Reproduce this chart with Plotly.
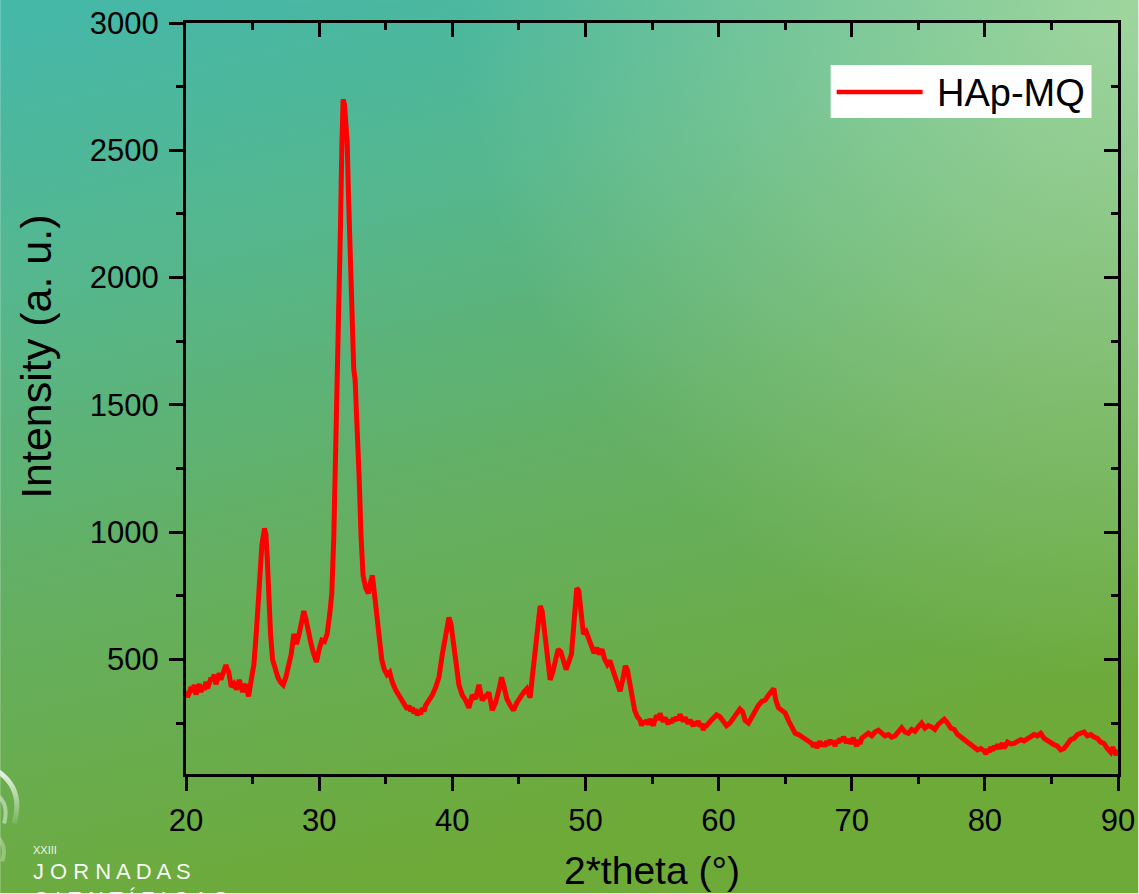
import base64
import plotly.graph_objects as go

# ---- XRD pattern (2theta in degrees, intensity in a.u.) ----
series_name = "HAp-MQ"
two_theta = [
    20.0, 20.12, 20.25, 20.38, 20.5, 20.62, 20.75, 20.88, 21.0, 21.12, 21.25, 21.38,
    21.5, 21.62, 21.75, 21.88, 22.0, 22.12, 22.25, 22.38, 22.5, 22.62, 22.75, 22.88,
    23.0, 23.1, 23.2, 23.4, 23.6, 23.8, 24.0, 24.12, 24.25, 24.38, 24.5, 24.6, 24.7,
    24.9, 25.1, 25.3, 25.5, 25.7, 25.9, 26.0, 26.1, 26.2, 26.35, 26.5, 26.7, 26.9,
    27.1, 27.3, 27.5, 27.7, 27.9, 28.1, 28.3, 28.5, 28.7, 28.85, 29.0, 29.2, 29.4,
    29.6, 29.8, 30.0, 30.2, 30.4, 30.6, 30.8, 30.95, 31.1, 31.25, 31.4, 31.5, 31.6,
    31.7, 31.8, 31.9, 32.0, 32.1, 32.2, 32.3, 32.4, 32.5, 32.6, 32.7, 32.85, 33.0,
    33.15, 33.3, 33.5, 33.7, 33.85, 34.0, 34.15, 34.3, 34.5, 34.7, 34.9, 35.1, 35.3,
    35.5, 35.75, 36.0, 36.25, 36.5, 36.62, 36.75, 36.88, 37.0, 37.12, 37.25, 37.38,
    37.5, 37.62, 37.75, 37.88, 38.0, 38.25, 38.5, 38.75, 39.0, 39.25, 39.5, 39.75,
    39.9, 40.1, 40.3, 40.5, 40.75, 41.0, 41.25, 41.5, 41.75, 42.0, 42.25, 42.5,
    42.75, 43.0, 43.25, 43.5, 43.7, 43.9, 44.1, 44.35, 44.6, 44.85, 45.1, 45.35,
    45.6, 45.85, 46.05, 46.25, 46.45, 46.6, 46.75, 46.95, 47.15, 47.35, 47.55, 47.75,
    47.95, 48.15, 48.35, 48.55, 48.75, 48.95, 49.15, 49.35, 49.5, 49.7, 49.85, 50.05,
    50.25, 50.45, 50.65, 50.85, 51.05, 51.25, 51.45, 51.65, 51.85, 52.05, 52.25,
    52.45, 52.6, 52.8, 53.0, 53.15, 53.3, 53.5, 53.7, 53.9, 54.1, 54.22, 54.35, 54.48,
    54.6, 54.72, 54.85, 54.98, 55.1, 55.22, 55.35, 55.48, 55.6, 55.72, 55.85, 55.98,
    56.1, 56.22, 56.35, 56.48, 56.6, 56.72, 56.85, 56.98, 57.1, 57.22, 57.35, 57.48,
    57.6, 57.72, 57.85, 57.98, 58.1, 58.22, 58.35, 58.48, 58.6, 58.72, 58.85, 58.98,
    59.1, 59.35, 59.6, 59.85, 60.1, 60.35, 60.6, 60.85,
    61.1, 61.35, 61.6, 61.8, 62.0, 62.25, 62.5, 62.75, 63.0, 63.25, 63.5, 63.75,
    64.0, 64.15, 64.3, 64.5, 64.75, 65.0, 65.25, 65.5, 65.75, 66.0, 66.25, 66.5,
    66.75, 67.0, 67.12, 67.25, 67.38, 67.5, 67.62, 67.75, 67.88, 68.0, 68.12, 68.25,
    68.38, 68.5, 68.62, 68.75, 68.88, 69.0, 69.12, 69.25, 69.38, 69.5, 69.62,
    69.75, 69.88, 70.0, 70.12, 70.25, 70.38, 70.5, 70.62, 70.75, 71.0, 71.25, 71.5,
    71.75, 72.0, 72.25, 72.5,
    72.75, 73.0, 73.25, 73.5, 73.75, 74.0, 74.25, 74.5, 74.75, 75.0, 75.25, 75.5,
    75.75, 76.0, 76.25, 76.5, 76.75, 76.95, 77.2, 77.45, 77.7, 77.95, 78.2, 78.45,
    78.7, 78.95, 79.2, 79.45, 79.7, 79.95, 80.08, 80.2, 80.32, 80.45, 80.58, 80.7,
    80.82, 80.95, 81.08, 81.2, 81.32, 81.45, 81.58,
    81.7, 81.95, 82.2, 82.45, 82.7, 82.95, 83.2, 83.45, 83.7, 83.95, 84.2, 84.45,
    84.7, 84.95, 85.2, 85.45, 85.7, 85.95, 86.2, 86.45, 86.7, 86.95, 87.2, 87.45,
    87.7, 87.95, 88.2, 88.45, 88.7, 88.95, 89.2, 89.45, 89.6, 89.7, 89.85, 90.0,
]
intensity = [
    375, 352, 368, 392, 372, 400, 362, 385, 404, 372, 398, 380,
    412, 386, 402, 428, 418, 440, 402, 425, 446, 420, 436, 452,
    478, 462, 452, 392, 405, 382, 420, 398, 372, 395, 402, 375, 355,
    420, 480, 620, 800, 950, 1015, 990, 900, 760, 600, 500, 460, 430,
    410, 400, 430, 470, 520, 600, 560, 600, 660, 690, 660, 600, 560,
    520, 490, 540, 575, 570, 600, 680, 760, 980, 1300, 1650, 1900, 2200,
    2500, 2700, 2680, 2600, 2540, 2330, 2150, 1900, 1700, 1640, 1600, 1450, 1220,
    980, 830, 780, 760, 800, 830, 760, 690, 580, 500, 460, 440, 450,
    410, 380, 360, 340, 320, 305, 318, 296, 312, 288, 305, 280,
    300, 285, 308, 296, 320, 340, 360, 390, 430, 520, 600, 665,
    640, 560, 460, 400, 360, 340, 310, 360, 345, 400, 340, 355,
    370, 300, 330, 380, 430, 390, 345, 320, 300, 330, 355, 370,
    385, 350, 450, 560, 660, 710, 690, 600, 520, 420, 450, 500,
    540, 530, 490, 460, 490, 520, 650, 780, 770, 660, 600, 610,
    580, 540, 525, 545, 520, 540, 500, 480, 495, 460, 430,
    390, 375, 420, 475, 460, 410, 350, 300, 275, 262, 240, 258, 248,
    262, 244, 266, 252, 240, 262, 280, 262, 288, 270, 255, 272,
    262, 246, 262, 250, 270, 258, 274, 262, 284, 266, 256, 272,
    258, 248, 262, 244, 238, 256, 242, 258, 236, 248, 222, 240,
    240, 255, 270, 282, 275, 255, 240, 250,
    270, 290, 305, 295, 260, 250, 275, 300, 320, 335, 340, 360,
    375, 385, 340, 310, 300, 290, 260, 230, 210, 205, 195, 185,
    175, 170, 158, 174, 152, 168, 178, 160, 172, 158, 180, 164,
    184, 168, 178, 160, 182, 172, 190, 178, 196, 184, 172,
    188, 170, 178, 192, 172, 160, 184, 168, 190, 200, 210, 200,
    215, 222, 210, 200,
    205, 195, 200, 220, 232, 215, 210, 225, 218, 235, 250, 230,
    240, 235, 225, 245, 255, 265, 250, 230, 225, 205, 195, 185,
    170, 160, 150, 145, 150, 140, 128, 148, 136, 156, 142, 160,
    148, 166, 150, 162, 170, 152, 168,
    175, 168, 170, 178, 185, 180, 190, 195, 205, 200, 210, 190,
    180, 170, 165, 160, 145, 150, 165, 185, 190, 205, 210, 215,
    200, 205, 195, 190, 175, 170, 150, 135, 155, 140, 125, 145,
]

x_range = [20, 90]
y_range = [50, 3000]
x_tickvals = [20, 30, 40, 50, 60, 70, 80, 90]
y_tickvals = [500, 1000, 1500, 2000, 2500, 3000]

# ---- page geometry (px) ----
W, H = 1139, 894
ML, MR, MT, MB = 186, 20.5, 23, 119.5
PW, PH = W - ML - MR, H - MT - MB


def fx(px):
    return (px - ML) / PW


def fy(py):
    return (H - MB - py) / PH


# ---- gradient backdrop with the conference mark ----
bg_svg = f"""<svg xmlns="http://www.w3.org/2000/svg" width="{W}" height="{H}" viewBox="0 0 {W} {H}" preserveAspectRatio="none">
<defs>
<linearGradient id="base" x1="0" y1="0" x2="0.3" y2="1">
<stop offset="0" stop-color="#44b8aa"/>
<stop offset="0.3" stop-color="#55b78e"/>
<stop offset="0.62" stop-color="#64af62"/>
<stop offset="1" stop-color="#6eaa38"/>
</linearGradient>
<radialGradient id="glow" cx="{W}" cy="0" r="680" gradientUnits="userSpaceOnUse">
<stop offset="0" stop-color="#d2eaa6" stop-opacity="0.6"/>
<stop offset="1" stop-color="#d2eaa6" stop-opacity="0"/>
</radialGradient>
<linearGradient id="arc" x1="0" y1="0" x2="0" y2="1">
<stop offset="0" stop-color="#ffffff" stop-opacity="0.85"/>
<stop offset="1" stop-color="#ffffff" stop-opacity="0.1"/>
</linearGradient>
</defs>
<rect width="{W}" height="{H}" fill="url(#base)"/>
<rect width="{W}" height="{H}" fill="url(#glow)"/>
<path d="M -2 772 Q 24 790 14 824" fill="none" stroke="url(#arc)" stroke-width="5"/>
<path d="M -2 796 Q 9 806 4 824" fill="none" stroke="#ffffff" stroke-opacity="0.45" stroke-width="4"/>
<path d="M -2 838 Q 7 848 2 862" fill="none" stroke="#ffffff" stroke-opacity="0.3" stroke-width="4"/>
</svg>"""
bg_src = "data:image/svg+xml;base64," + base64.b64encode(bg_svg.encode()).decode()

FONT = "Liberation Sans, Arial, sans-serif"

fig = go.Figure()
fig.add_trace(go.Scatter(
    x=two_theta, y=intensity, mode="lines", name=series_name,
    line=dict(color="#ff0000", width=5), showlegend=False,
))
# empty trace that carries the top / right frame axes
fig.add_trace(go.Scatter(x=[], y=[], xaxis="x2", yaxis="y2",
                         showlegend=False, hoverinfo="skip"))

common = dict(
    showline=True, linewidth=3, linecolor="black",
    showgrid=False, zeroline=False, automargin=False,
    tickwidth=3, tickcolor="black", ticklen=14,
    tickfont=dict(family=FONT, size=31, color="black"),
)

fig.update_layout(
    width=W, height=H, autosize=False,
    margin=dict(l=ML, r=MR, t=MT, b=MB, pad=0),
    paper_bgcolor="rgba(0,0,0,0)", plot_bgcolor="rgba(0,0,0,0)",
    font=dict(family=FONT, color="black"),
    xaxis=dict(range=x_range, tickvals=x_tickvals, ticks="outside",
               ticklabelstandoff=3,
               minor=dict(ticks="outside", ticklen=7, tickwidth=3,
                          tickcolor="black", dtick=5, tick0=20, showgrid=False),
               **common),
    yaxis=dict(range=y_range, tickvals=y_tickvals, ticks="outside",
               ticklabelstandoff=4,
               minor=dict(ticks="outside", ticklen=7, tickwidth=3,
                          tickcolor="black", dtick=250, tick0=0, showgrid=False),
               **common),
    xaxis2=dict(range=x_range, overlaying="x", side="top", anchor="y",
                tickvals=x_tickvals, ticks="inside", showticklabels=False,
                minor=dict(ticks="inside", ticklen=7, tickwidth=3,
                           tickcolor="black", dtick=5, tick0=20, showgrid=False),
                **common),
    yaxis2=dict(range=y_range, overlaying="y", side="right", anchor="x",
                tickvals=y_tickvals, ticks="inside", showticklabels=False,
                minor=dict(ticks="inside", ticklen=7, tickwidth=3,
                           tickcolor="black", dtick=250, tick0=0, showgrid=False),
                **common),
    images=[dict(source=bg_src, xref="paper", yref="paper",
                 x=fx(0), y=fy(0), sizex=W / PW, sizey=H / PH,
                 xanchor="left", yanchor="top", sizing="stretch",
                 layer="below")],
)

# legend box
fig.add_shape(type="rect", xref="paper", yref="paper",
              x0=fx(831), x1=fx(1092), y0=fy(118), y1=fy(65),
              fillcolor="white", line=dict(width=0), layer="above")
fig.add_shape(type="line", xref="paper", yref="paper",
              x0=fx(837), x1=fx(923), y0=fy(92), y1=fy(92),
              line=dict(color="#ff0000", width=4.5), layer="above")

annotations = [
    dict(text=series_name, x=fx(935), y=fy(93), xanchor="left", yanchor="middle",
         font=dict(size=38, color="black")),
    dict(text="2*theta (°)", x=fx(652), y=fy(871), xanchor="center", yanchor="middle",
         font=dict(size=39, color="black")),
    dict(text="Intensity (a. u.)", x=fx(36), y=fy(357), xanchor="center",
         yanchor="middle", textangle=-90, font=dict(size=43, color="black")),
    dict(text="XXIII", x=fx(31), y=fy(851), xanchor="left", yanchor="middle",
         font=dict(size=11, color="rgba(255,255,255,0.9)")),
    dict(text="J O R N A D A S", x=fx(31), y=fy(872), xanchor="left", yanchor="middle",
         font=dict(size=22, color="rgba(255,255,255,0.95)")),
    dict(text="C I E N T Í F I C A S", x=fx(31), y=fy(886), xanchor="left", yanchor="top",
         font=dict(size=22, color="rgba(255,255,255,0.95)")),
]
for a in annotations:
    fig.add_annotation(xref="paper", yref="paper", showarrow=False, **a)

fig.write_html("out.html")
